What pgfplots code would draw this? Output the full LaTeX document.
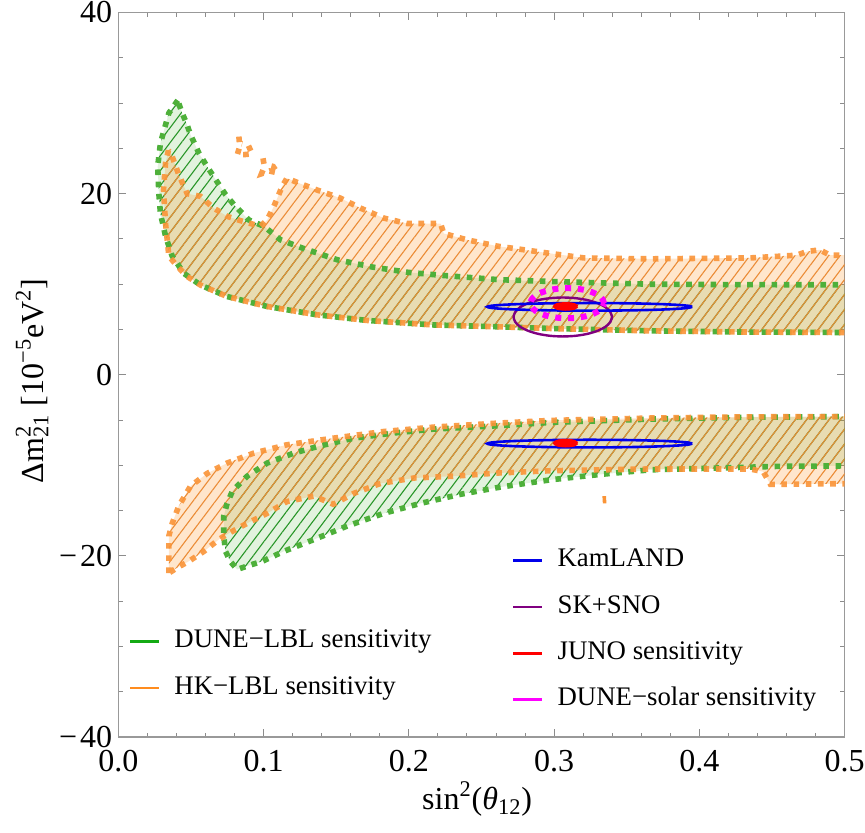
\documentclass[border=0pt]{standalone}
\usepackage{pgfplots}
\pgfplotsset{compat=1.18}
\usepackage{pgfplotstable}
\usetikzlibrary{patterns.meta}
\usepackage{fontspec}
\setmainfont{Liberation Serif}

\definecolor{dgreen}{RGB}{78,176,58}
\definecolor{dorange}{RGB}{250,148,55}
\definecolor{gfill}{RGB}{77,179,51}
\definecolor{ofill}{RGB}{255,128,0}
\definecolor{ghatch}{RGB}{40,150,40}
\definecolor{ohatch}{RGB}{235,140,55}
\definecolor{legG}{RGB}{20,170,20}
\definecolor{legO}{RGB}{255,140,30}
\definecolor{kblue}{RGB}{0,0,235}
\definecolor{spurple}{RGB}{128,0,128}
\definecolor{dmag}{RGB}{255,0,255}
\definecolor{jred}{RGB}{255,0,0}

\pgfplotstableread{
x y
0.0408 30.3
0.0347 28.9
0.0289 25.6
0.027 23.0
0.0278 20.0
0.0289 17.8
0.0324 15.3
0.037 13.1
0.045 11.2
0.0565 9.9
0.0748 8.64
0.1024 7.54
0.1368 6.62
0.171 6.0
0.217 5.5
0.261 5.3
0.30 5.1
0.366 4.85
0.43 4.72
0.52 4.65
0.52 9.93
0.43 9.95
0.366 10.0
0.2975 10.3
0.262 10.5
0.224 10.96
0.2 11.3
0.1747 11.9
0.1506 12.7
0.1265 14.0
0.1116 14.9
0.1001 16.4
0.0897 17.1
0.0794 18.8
0.0737 19.9
0.061 23.0
0.0553 24.5
0.0496 26.5
0.0468 27.8
0.0438 28.9
0.0408 30.3
}\gup

\pgfplotstableread{
x y
0.0344 24.8
0.0324 23.4
0.031 20.4
0.0324 16.7
0.0347 13.1
0.0404 12.0
0.0473 10.85
0.0565 9.9
0.0748 8.64
0.1024 7.54
0.1368 6.62
0.171 6.0
0.217 5.5
0.261 5.3
0.30 5.1
0.366 4.85
0.43 4.72
0.52 4.65
0.52 13.2
0.49 13.2
0.483 13.8
0.474 13.6
0.467 13.2
0.435 12.9
0.366 12.8
0.3205 12.9
0.2975 13.4
0.261 14.2
0.24 14.9
0.224 15.6
0.2218 16.7
0.1988 16.7
0.1827 17.3
0.1667 18.4
0.1529 19.5
0.1368 20.4
0.1253 21.1
0.116 21.7
0.1127 20.8
0.107 18.6
0.1024 17.1
0.0978 16.4
0.0863 16.9
0.0748 17.5
0.0656 18.4
0.0565 19.7
0.0473 20.0
0.0415 22.1
0.037 24.1
0.0344 24.8
}\oup

\pgfplotstableread{
x y
0.0347 -21.9
0.0347 -20.05
0.0347 -17.8
0.037 -16.4
0.0415 -14.5
0.0496 -12.3
0.061 -10.9
0.0748 -9.75
0.0932 -8.65
0.116 -7.73
0.148 -7.0
0.183 -6.26
0.217 -5.78
0.261 -5.34
0.2975 -5.04
0.366 -4.78
0.43 -4.65
0.52 -4.6
0.52 -12.0
0.449 -12.1
0.444 -10.7
0.435 -10.4
0.366 -10.4
0.2975 -10.6
0.261 -10.85
0.231 -11.2
0.2034 -11.4
0.1804 -12.0
0.162 -13.1
0.148 -14.3
0.1345 -13.4
0.116 -14.0
0.1024 -15.3
0.0886 -16.4
0.076 -17.5
0.069 -18.2
0.0588 -19.5
0.0484 -20.6
0.0404 -21.3
0.0347 -21.9
}\olow

\pgfplotstableread{
x y
0.0748 -14.2
0.0725 -15.6
0.0725 -17.8
0.0737 -19.5
0.077 -20.6
0.0817 -21.5
0.0909 -21.0
0.099 -20.6
0.1138 -19.5
0.1345 -18.2
0.1575 -16.7
0.1827 -15.3
0.208 -14.2
0.2355 -13.2
0.263 -12.4
0.2975 -11.6
0.332 -11.0
0.366 -10.5
0.412 -10.3
0.458 -10.1
0.52 -10.05
0.52 -4.6
0.43 -4.7
0.366 -4.9
0.2975 -5.26
0.261 -5.63
0.217 -6.0
0.189 -6.44
0.162 -7.0
0.139 -7.84
0.1207 -8.65
0.1024 -9.75
0.0886 -11.2
0.0786 -12.8
0.0748 -14.2
}\glow

\pgfplotsset{
  gdots/.style={color=dgreen, line width=2.8pt, dash pattern=on 2.8pt off 3.3pt},
  odots/.style={color=dorange, draw opacity=0.9, line width=2.8pt, dash pattern=on 2.8pt off 3.3pt},
  gfillst/.style={draw=none, fill=gfill, fill opacity=0.16},
  ofillst/.style={draw=none, fill=ofill, fill opacity=0.2},
  ghatchst/.style={draw=none, pattern={Lines[angle=53,distance=4.5pt,line width=0.55pt]}, pattern color=ghatch, fill opacity=0.9},
  ohatchst/.style={draw=none, pattern={Lines[angle=53,distance=4.5pt,line width=0.55pt]}, pattern color=ohatch, fill opacity=0.75},
}

\begin{document}
\begin{tikzpicture}
\begin{axis}[
  scale only axis, width=363pt, height=362.25pt,
  xmin=0, xmax=0.5, ymin=-40, ymax=40,
  xtick={0,0.1,0.2,0.3,0.4,0.5}, xticklabels={0.0,0.1,0.2,0.3,0.4,0.5},
  ytick={-40,-20,0,20,40}, yticklabels={−\kern1.5pt40,−\kern1.5pt20,0,20,40},
  minor x tick num=4, minor y tick num=3,
  tick pos=both, tick align=inside,
  axis line style={draw=black!40, line width=0.6pt},
  every tick/.style={black!45, line width=0.5pt},
  major tick length=3.8pt, minor tick length=2.2pt,
  xticklabel style={font=\fontsize{16}{19}\selectfont, anchor=base, yshift=-17pt, inner sep=0pt},
  yticklabel style={font=\fontsize{16}{19}\selectfont, anchor=east, xshift=-3pt, inner sep=0pt},
  xlabel={sin\textsuperscript{2}(\textit{θ}\textsubscript{12})},
  xlabel style={font=\fontsize{16}{19}\selectfont, at={(axis description cs:0.494,-0.1)}, anchor=base, inner sep=0pt},
  ylabel={Δm\rlap{\textsuperscript{2}}\textsubscript{21} [10\textsuperscript{−5}eV\textsuperscript{2}]},
  ylabel style={font=\fontsize{16}{19}\selectfont, at={(axis description cs:-0.1191,0.4917)}, anchor=center, rotate=0, inner sep=0pt},
  legend image code/.code={\draw[#1] (0pt,0pt) -- (14.5pt,0pt);},
  legend cell align=left,
  legend style={draw=none, fill=none, inner sep=0pt, outer sep=0pt,
    at={(axis description cs:0.0146,0.1481)}, anchor=north west, row sep=11.2pt,
    font=\fontsize{13.4}{16}\selectfont,
    nodes={inner sep=0pt, text height=9pt, text depth=3pt},
    /tikz/every odd column/.append style={column sep=6.85pt}},
]
% fills
\addplot[gfillst, forget plot] table[x=x,y=y]{\gup};
\addplot[gfillst, forget plot] table[x=x,y=y]{\glow};
\addplot[ofillst, forget plot] table[x=x,y=y]{\oup};
\addplot[ofillst, forget plot] table[x=x,y=y]{\olow};
% hatches
\addplot[ghatchst, forget plot] table[x=x,y=y]{\gup};
\addplot[ghatchst, forget plot] table[x=x,y=y]{\glow};
\addplot[ohatchst, forget plot] table[x=x,y=y]{\oup};
\addplot[ohatchst, forget plot] table[x=x,y=y]{\olow};
% dotted boundaries
\addplot[gdots, forget plot] table[x=x,y=y]{\gup};
\addplot[gdots, forget plot] table[x=x,y=y]{\glow};
\addplot[odots, forget plot] table[x=x,y=y]{\oup};
\addplot[odots, forget plot] table[x=x,y=y]{\olow};
% small orange islands
\addplot[odots, forget plot] coordinates {(0.0829,26.3) (0.0835,25.2) (0.0818,24.3) (0.0860,24.3) (0.0920,24.4) (0.0895,25.3) (0.0850,25.5)};
\addplot[odots, forget plot] coordinates {(0.0995,23.9) (0.1005,23.0) (0.0985,22.2) (0.1040,22.5) (0.1095,22.3) (0.1065,23.0) (0.1020,23.2)};
\addplot[color=dorange, line width=1.8pt, forget plot] coordinates {(0.3345,-13.4) (0.3348,-14.2)};
% SK+SNO
\addplot[spurple, line width=1.2pt, smooth, forget plot] coordinates {
(0.3399,6.38) (0.3387,6.937) (0.3354,7.455) (0.33,7.9) (0.323,8.242) (0.3148,8.457)
(0.306,8.53) (0.2972,8.457) (0.289,8.242) (0.282,7.9) (0.2766,7.455) (0.2733,6.937)
(0.2721,6.38) (0.2733,5.823) (0.2766,5.305) (0.282,4.86) (0.289,4.518) (0.2972,4.303)
(0.306,4.23) (0.3148,4.303) (0.323,4.518) (0.33,4.86) (0.3354,5.305) (0.3387,5.823) (0.3399,6.38)};
% KamLAND upper
\addplot[kblue, line width=1.3pt, smooth, forget plot] coordinates {
(0.3951,7.5) (0.3927,7.609) (0.3856,7.71) (0.3744,7.797) (0.3598,7.864) (0.3428,7.906)
(0.3245,7.92) (0.3062,7.906) (0.2892,7.864) (0.2746,7.797) (0.2634,7.71) (0.2563,7.609)
(0.2539,7.5) (0.2563,7.391) (0.2634,7.29) (0.2746,7.203) (0.2892,7.136) (0.3062,7.094)
(0.3245,7.08) (0.3428,7.094) (0.3598,7.136) (0.3744,7.203) (0.3856,7.29) (0.3927,7.391) (0.3951,7.5)};
% KamLAND lower
\addplot[kblue, line width=1.3pt, smooth, forget plot] coordinates {
(0.3951,-7.6) (0.3927,-7.491) (0.3856,-7.39) (0.3744,-7.303) (0.3598,-7.236) (0.3428,-7.194)
(0.3245,-7.18) (0.3062,-7.194) (0.2892,-7.236) (0.2746,-7.303) (0.2634,-7.39) (0.2563,-7.491)
(0.2539,-7.6) (0.2563,-7.709) (0.2634,-7.81) (0.2746,-7.897) (0.2892,-7.964) (0.3062,-8.006)
(0.3245,-8.02) (0.3428,-8.006) (0.3598,-7.964) (0.3744,-7.897) (0.3856,-7.81) (0.3927,-7.709) (0.3951,-7.6)};
% DUNE-solar
\addplot[dmag, line width=3pt, dash pattern=on 3pt off 3.4pt, smooth, forget plot] coordinates {
(0.3343,7.9) (0.3334,8.33) (0.3309,8.73) (0.3269,9.074) (0.3217,9.338) (0.3156,9.503)
(0.309,9.56) (0.3025,9.503) (0.2964,9.338) (0.2911,9.074) (0.2871,8.73) (0.2846,8.33)
(0.2837,7.9) (0.2846,7.47) (0.2871,7.07) (0.2911,6.726) (0.2964,6.462) (0.3025,6.297)
(0.309,6.24) (0.3156,6.297) (0.3217,6.462) (0.3269,6.726) (0.3309,7.07) (0.3334,7.47) (0.3343,7.9)};
% JUNO
\addplot[jred, fill=jred, line width=1.2pt, smooth, forget plot] coordinates {
(0.316,7.55) (0.3137,7.8) (0.308,7.9) (0.3023,7.8) (0.300,7.55) (0.3023,7.3) (0.308,7.2) (0.3137,7.3) (0.316,7.55)};
\addplot[jred, fill=jred, line width=1.2pt, smooth, forget plot] coordinates {
(0.316,-7.55) (0.3137,-7.3) (0.308,-7.2) (0.3023,-7.3) (0.300,-7.55) (0.3023,-7.8) (0.308,-7.9) (0.3137,-7.8) (0.316,-7.55)};
% legend 1
\addlegendimage{color=legG, line width=1.3pt}
\addlegendentry{DUNE−LBL sensitivity}
\addlegendimage{color=legO, line width=1.3pt}
\addlegendentry{HK−LBL sensitivity}
\end{axis}
\begin{axis}[
  scale only axis, width=363pt, height=362.25pt,
  xmin=0, xmax=0.5, ymin=-40, ymax=40, hide axis,
  legend image code/.code={\draw[#1] (0pt,0pt) -- (14.5pt,0pt);},
  legend cell align=left,
  legend style={draw=none, fill=none, inner sep=0pt, outer sep=0pt,
    at={(axis description cs:0.5416,0.2599)}, anchor=north west, row sep=11.15pt,
    font=\fontsize{13.4}{16}\selectfont,
    nodes={inner sep=0pt, text height=9pt, text depth=3pt},
    /tikz/every odd column/.append style={column sep=7.15pt}},
]
\addplot[draw=none, forget plot] coordinates {(0.25,0)};
\addlegendimage{color=kblue, line width=1.3pt}
\addlegendentry{KamLAND}
\addlegendimage{color=spurple, line width=1.3pt}
\addlegendentry{SK+SNO}
\addlegendimage{color=jred, line width=1.3pt}
\addlegendentry{JUNO sensitivity}
\addlegendimage{color=dmag, line width=1.3pt}
\addlegendentry{DUNE−solar sensitivity}
\end{axis}
\pgfresetboundingbox
\path[use as bounding box] (-59.25pt,-47.5pt) rectangle (373.25pt,368.5pt);
\end{tikzpicture}
\end{document}
